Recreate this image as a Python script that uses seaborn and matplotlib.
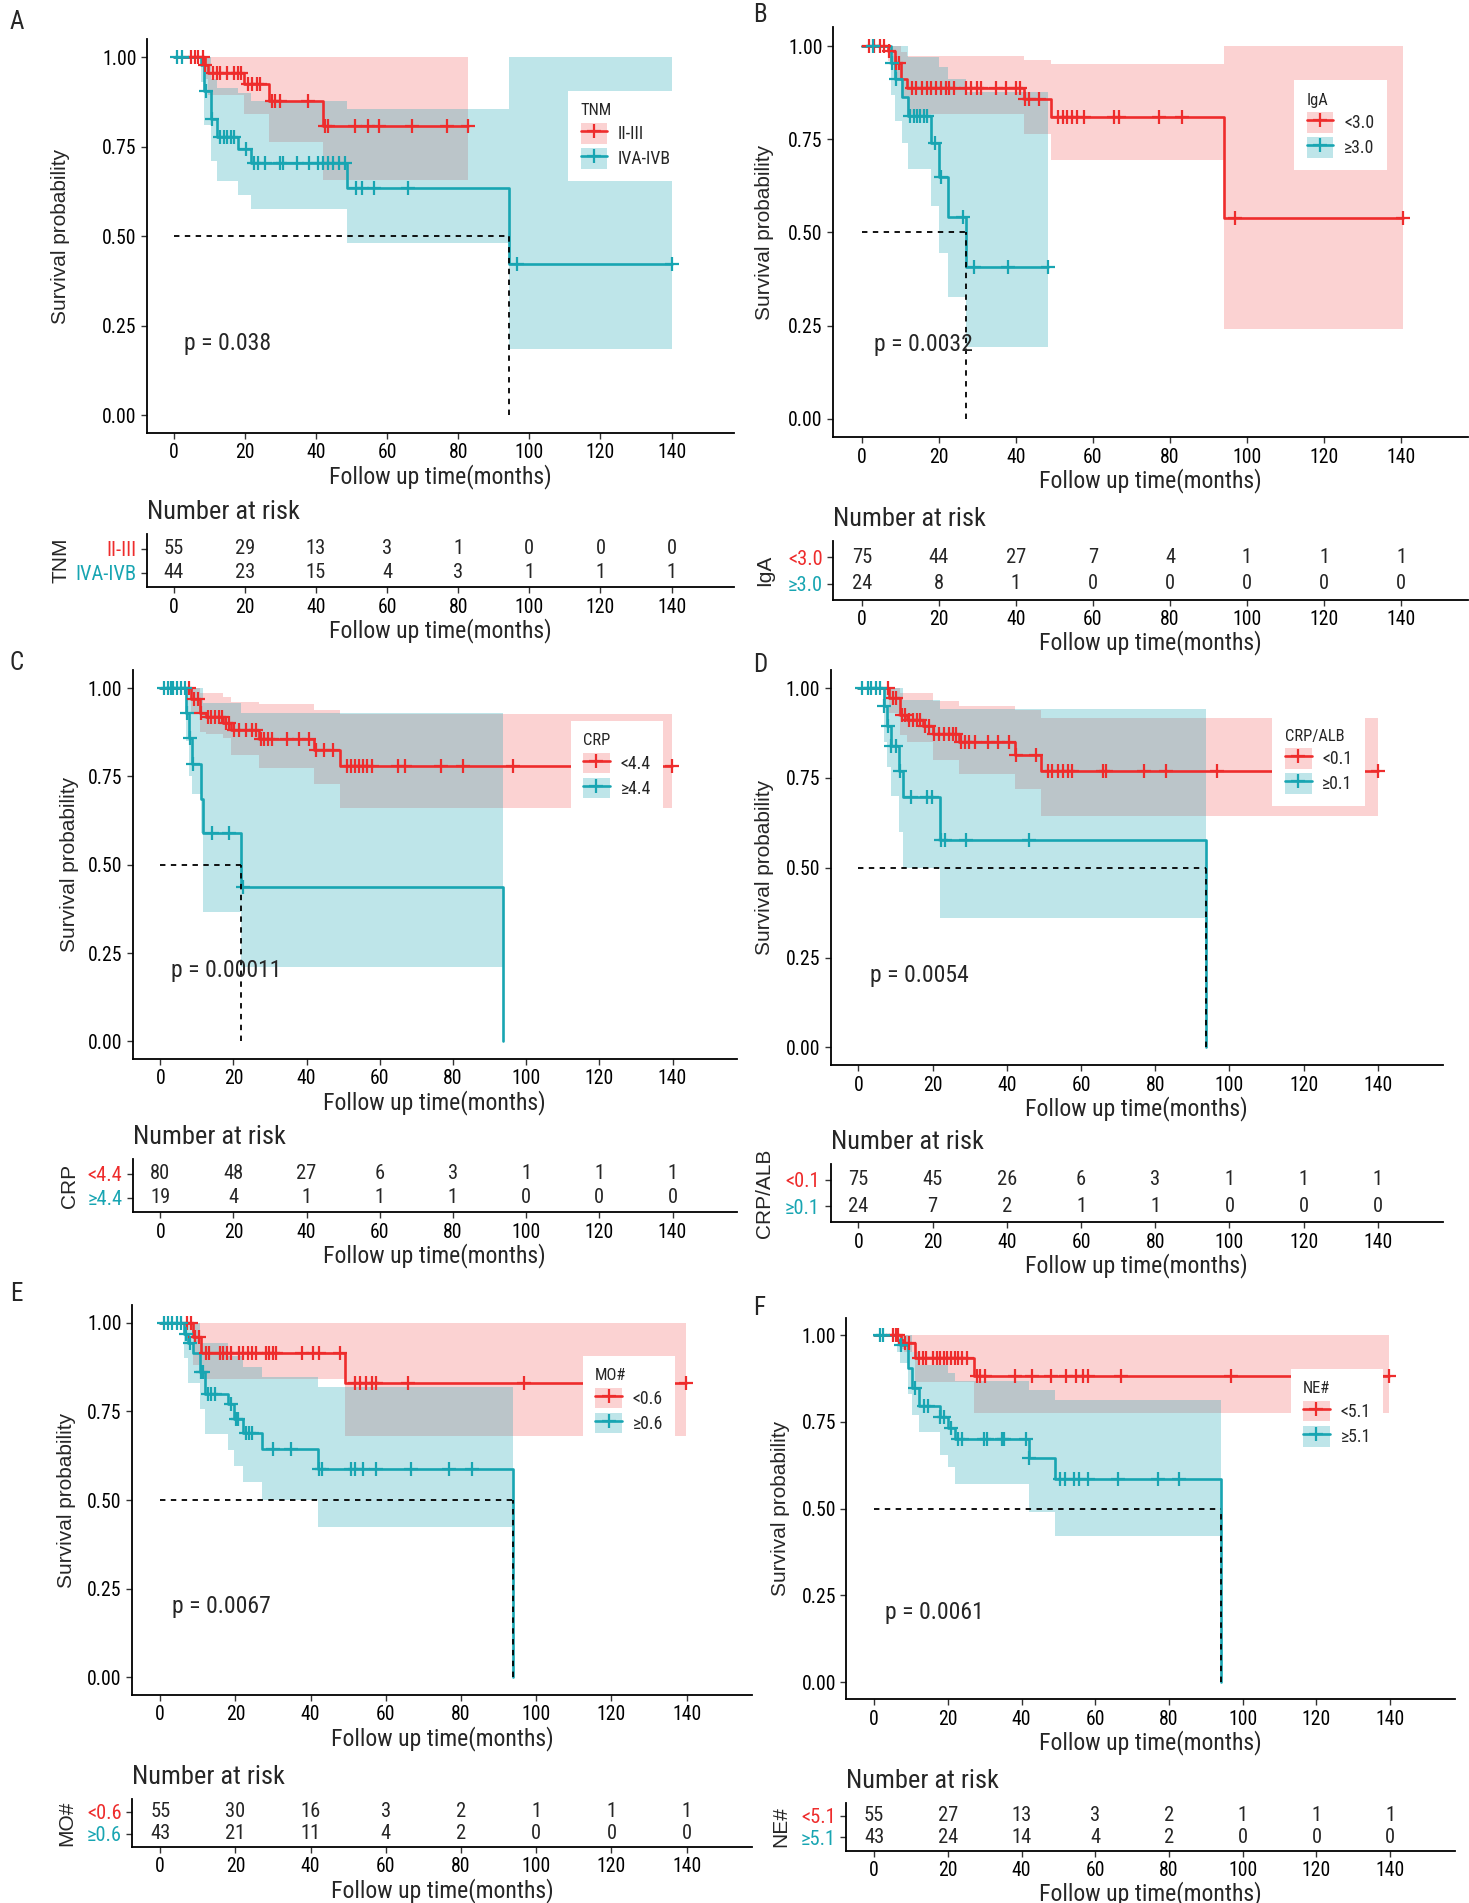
import numpy as np
import pandas as pd
import matplotlib
matplotlib.use("Agg")
import matplotlib.pyplot as plt
import seaborn as sns
from matplotlib import font_manager as fm
from matplotlib.patches import Patch
from matplotlib.lines import Line2D
from matplotlib.transforms import offset_copy

# ---------------------------------------------------------------- data
TICKS = [0, 20, 40, 60, 80, 100, 120, 140]

# Panel A : TNM
A_title = "TNM"
A_labels = ["II-III", "IVA-IVB"]
A_p = "p = 0.038"
A_g1_time = [0, 8.8, 9.8, 19.7, 26.9, 42.0]
A_g1_surv = [1.0, 0.977, 0.955, 0.926, 0.877, 0.807]
A_g1_low = [1.0, 0.94, 0.895, 0.842, 0.763, 0.656]
A_g1_up = [1.0, 1.0, 1.0, 1.0, 1.0, 1.0]
A_g1_end = 82.7
A_g1_cens = [5.0, 5.9, 7.0, 8.2, 8.8, 11.2, 12.1, 13.1, 15.1, 17.1, 18.1, 19.0, 21.0, 22.0,
             23.4, 24.3, 27.6, 28.6, 29.8, 37.7, 42.6, 43.3, 51.0, 54.7, 57.7, 67.0, 76.8, 82.7]
A_g2_time = [0, 7.6, 8.6, 10.5, 12.2, 18.1, 21.7, 48.8, 94.2]
A_g2_surv = [1.0, 0.977, 0.905, 0.828, 0.777, 0.744, 0.705, 0.635, 0.423]
A_g2_low = [1.0, 0.93, 0.81, 0.71, 0.655, 0.615, 0.575, 0.48, 0.184]
A_g2_up = [1.0, 1.0, 1.0, 0.94, 0.914, 0.90, 0.877, 0.855, 1.0]
A_g2_end = 140.0
A_g2_cens = [1.0, 2.4, 9.2, 10.9, 13.1, 14.2, 15.1, 16.0, 17.0, 20.3, 22.7, 23.6, 25.6, 29.9,
             30.8, 34.8, 38.0, 40.7, 42.0, 43.3, 44.9, 46.6, 48.3, 51.2, 53.1, 56.4, 65.9, 96.5, 140.0]
A_risk1 = [55, 29, 13, 3, 1, 0, 0, 0]
A_risk2 = [44, 23, 15, 4, 3, 1, 1, 1]

# Panel B : IgA
B_title = "IgA"
B_labels = ["<3.0", "\u22653.0"]
B_p = "p = 0.0032"
B_g1_time = [0, 6.8, 8.5, 10.2, 11.7, 42.1, 49.0, 94.1]
B_g1_surv = [1.0, 0.987, 0.955, 0.911, 0.888, 0.857, 0.81, 0.54]
B_g1_low = [1.0, 0.96, 0.91, 0.86, 0.817, 0.763, 0.694, 0.241]
B_g1_up = [1.0, 1.0, 1.0, 0.985, 0.973, 0.962, 0.953, 1.0]
B_g1_end = 140.4
B_g1_cens = [1.9, 3.2, 4.6, 5.6, 7.0, 8.9, 9.7, 13.1, 14.1, 15.6, 17.0, 18.0, 19.2, 20.5, 21.7,
             22.6, 23.9, 27.1, 28.4, 30.0, 30.8, 34.8, 37.5, 39.9, 41.1, 42.4, 43.3, 46.0, 50.9,
             52.1, 53.3, 54.5, 55.8, 57.6, 65.5, 66.8, 77.1, 83.2, 96.9, 140.4]
B_g2_time = [0, 7.5, 8.7, 10.5, 11.9, 18.0, 20.1, 22.3, 27.1]
B_g2_surv = [1.0, 0.955, 0.911, 0.864, 0.812, 0.741, 0.649, 0.542, 0.406]
B_g2_low = [1.0, 0.87, 0.80, 0.74, 0.67, 0.57, 0.446, 0.326, 0.192]
B_g2_up = [1.0, 1.0, 1.0, 1.0, 0.97, 0.97, 0.945, 0.911, 0.878]
B_g2_end = 48.2
B_g2_cens = [2.8, 7.7, 8.9, 12.5, 13.4, 14.4, 15.2, 16.2, 17.0, 18.9, 20.5, 26.3, 29.2, 37.9, 48.2]
B_risk1 = [75, 44, 27, 7, 4, 1, 1, 1]
B_risk2 = [24, 8, 1, 0, 0, 0, 0, 0]

# Panel C : CRP
C_title = "CRP"
C_labels = ["<4.4", "\u22654.4"]
C_p = "p = 0.00011"
C_g1_time = [0, 8.3, 10.8, 12.4, 17.2, 19.2, 26.9, 42.1, 49.1]
C_g1_surv = [1.0, 0.97, 0.929, 0.917, 0.901, 0.882, 0.857, 0.824, 0.779]
C_g1_low = [1.0, 0.93, 0.875, 0.87, 0.859, 0.81, 0.774, 0.729, 0.661]
C_g1_up = [1.0, 1.0, 0.986, 0.986, 0.976, 0.962, 0.955, 0.937, 0.927]
C_g1_end = 139.8
C_g1_cens = [7.9, 9.2, 10.2, 11.1, 13.1, 13.9, 15.0, 16.0, 16.9, 17.9, 18.8, 20.1, 21.6, 23.3,
             25.2, 26.2, 27.5, 28.4, 29.4, 30.6, 34.6, 37.8, 40.6, 42.5, 44.7, 47.2, 51.1, 52.1,
             53.1, 54.3, 55.3, 56.6, 57.8, 65.1, 66.8, 76.8, 82.8, 96.5, 139.8]
C_g2_time = [0, 6.9, 7.8, 8.6, 11.1, 11.6, 22.0, 93.7]
C_g2_surv = [1.0, 0.929, 0.859, 0.784, 0.685, 0.59, 0.438, 0.0]
C_g2_low = [1.0, 0.85, 0.75, 0.70, 0.59, 0.365, 0.21, 0.0]
C_g2_up = [1.0, 1.0, 1.0, 1.0, 1.0, 0.958, 0.931, 0.0]
C_g2_end = 93.7
C_g2_cens = [0.9, 2.2, 2.8, 3.5, 4.7, 5.8, 6.7, 7.2, 8.1, 8.9, 14.1, 18.8, 22.7]
C_risk1 = [80, 48, 27, 6, 3, 1, 1, 1]
C_risk2 = [19, 4, 1, 1, 1, 0, 0, 0]

# Panel D : CRP/ALB
D_title = "CRP/ALB"
D_labels = ["<0.1", "\u22650.1"]
D_p = "p = 0.0054"
D_g1_time = [0, 8.3, 11.1, 13.0, 17.4, 20.1, 27.2, 42.3, 49.1]
D_g1_surv = [1.0, 0.972, 0.926, 0.912, 0.895, 0.872, 0.851, 0.814, 0.77]
D_g1_low = [1.0, 0.93, 0.87, 0.85, 0.85, 0.80, 0.76, 0.72, 0.645]
D_g1_up = [1.0, 1.0, 0.986, 0.986, 0.986, 0.963, 0.951, 0.939, 0.918]
D_g1_end = 140.0
D_g1_cens = [7.9, 9.2, 10.2, 11.7, 12.6, 13.6, 14.6, 15.7, 16.7, 18.0, 18.9, 20.5, 21.8, 23.0,
             24.3, 25.5, 26.4, 27.7, 28.7, 29.9, 31.4, 35.0, 37.5, 40.6, 42.5, 47.8, 51.1, 52.3,
             53.8, 55.1, 56.4, 57.6, 65.8, 66.8, 76.9, 83.0, 96.6, 140.0]
D_g2_time = [0, 6.8, 7.7, 8.7, 11.0, 12.0, 22.0, 93.8]
D_g2_surv = [1.0, 0.949, 0.895, 0.839, 0.77, 0.696, 0.577, 0.0]
D_g2_low = [1.0, 0.85, 0.78, 0.70, 0.60, 0.50, 0.36, 0.0]
D_g2_up = [1.0, 1.0, 1.0, 1.0, 1.0, 0.967, 0.942, 0.0]
D_g2_end = 93.8
D_g2_cens = [1.0, 2.5, 3.5, 4.8, 5.8, 7.0, 7.9, 8.9, 10.1, 11.1, 14.2, 18.6, 19.9, 22.4, 23.4, 29.1, 46.0]
D_risk1 = [75, 45, 26, 6, 3, 1, 1, 1]
D_risk2 = [24, 7, 2, 1, 1, 0, 0, 0]

# Panel E : MO#
E_title = "MO#"
E_labels = ["<0.6", "\u22650.6"]
E_p = "p = 0.0067"
E_g1_time = [0, 8.6, 10.8, 49.1]
E_g1_surv = [1.0, 0.959, 0.915, 0.83]
E_g1_low = [1.0, 0.88, 0.843, 0.681]
E_g1_up = [1.0, 1.0, 1.0, 1.0]
E_g1_end = 139.7
E_g1_cens = [7.1, 8.1, 9.3, 10.2, 12.1, 13.1, 15.8, 16.8, 17.7, 18.9, 21.0, 22.0, 23.3, 24.3,
             25.5, 28.0, 28.9, 29.9, 30.8, 37.6, 40.5, 42.3, 47.8, 51.9, 53.2, 54.7, 56.3, 57.5,
             65.9, 96.8, 139.7]
E_g2_time = [0, 6.3, 7.5, 8.6, 10.7, 11.8, 17.9, 19.6, 22.0, 27.0, 42.0, 93.9]
E_g2_surv = [1.0, 0.97, 0.944, 0.915, 0.86, 0.80, 0.77, 0.73, 0.69, 0.645, 0.588, 0.0]
E_g2_low = [1.0, 0.9, 0.83, 0.83, 0.758, 0.686, 0.64, 0.597, 0.552, 0.50, 0.425, 0.0]
E_g2_up = [1.0, 1.0, 1.0, 1.0, 0.944, 0.944, 0.906, 0.906, 0.876, 0.847, 0.819, 0.0]
E_g2_end = 93.9
E_g2_cens = [0.9, 2.1, 3.1, 4.4, 5.6, 6.8, 7.9, 10.9, 11.4, 12.7, 13.6, 14.6, 18.9, 20.2, 20.8,
             22.7, 23.7, 24.5, 29.9, 34.9, 42.3, 43.0, 50.7, 51.9, 53.8, 57.5, 66.6, 76.8, 82.8]
E_risk1 = [55, 30, 16, 3, 2, 1, 1, 1]
E_risk2 = [43, 21, 11, 4, 2, 0, 0, 0]

# Panel F : NE#
F_title = "NE#"
F_labels = ["<5.1", "\u22655.1"]
F_p = "p = 0.0061"
F_g1_time = [0, 7.2, 8.0, 11.0, 27.2]
F_g1_surv = [1.0, 0.986, 0.978, 0.933, 0.883]
F_g1_low = [1.0, 0.96, 0.95, 0.865, 0.776]
F_g1_up = [1.0, 1.0, 1.0, 1.0, 1.0]
F_g1_end = 139.7
F_g1_cens = [5.1, 6.0, 6.6, 8.5, 9.4, 12.3, 13.2, 14.2, 16.1, 17.0, 18.0, 18.9, 19.9, 20.8, 21.9,
             22.9, 23.8, 25.3, 27.8, 28.8, 30.1, 38.1, 42.8, 47.9, 52.1, 54.9, 56.8, 58.1, 67.0,
             96.8, 139.7]
F_g2_time = [0, 6.3, 7.0, 9.2, 10.2, 12.3, 17.8, 20.0, 21.9, 41.9, 49.2, 94.0]
F_g2_surv = [1.0, 0.986, 0.971, 0.904, 0.846, 0.795, 0.765, 0.731, 0.699, 0.647, 0.585, 0.0]
F_g2_low = [1.0, 0.95, 0.92, 0.83, 0.77, 0.72, 0.655, 0.62, 0.57, 0.49, 0.42, 0.0]
F_g2_up = [1.0, 1.0, 1.0, 1.0, 0.95, 0.913, 0.913, 0.89, 0.868, 0.841, 0.813, 0.0]
F_g2_end = 94.0
F_g2_cens = [1.5, 2.5, 7.2, 11.1, 13.6, 14.5, 18.0, 19.1, 21.0, 22.9, 23.8, 29.7, 30.7, 34.6,
             35.2, 41.2, 42.1, 50.4, 51.7, 54.3, 55.5, 58.1, 66.1, 77.1, 82.8]
F_risk1 = [55, 27, 13, 3, 2, 1, 1, 1]
F_risk2 = [43, 24, 14, 4, 2, 0, 0, 0]

# ---------------------------------------------------------------- style
sns.set_style("ticks")


def has_font(name):
    try:
        fm.findfont(fm.FontProperties(family=name), fallback_to_default=False)
        return True
    except Exception:
        return False


if has_font("Liberation Sans Narrow"):
    NARROW, NS = "Liberation Sans Narrow", 1.0
elif has_font("Roboto Condensed"):
    NARROW, NS = "Roboto Condensed", 0.95
else:
    NARROW, NS = "Liberation Sans", 0.84
REG = "Liberation Sans" if has_font("Liberation Sans") else "DejaVu Sans"
NFAM = [NARROW, "DejaVu Sans"]
RFAM = [REG, "DejaVu Sans"]
plt.rcParams["font.family"] = NFAM

RED = "#EE2C2C"
TEAL = "#18A5B2"
ALPHAS = {RED: 0.21, TEAL: 0.28}
LW = 1.9

W, H = 1210.0, 1568.0
fig = plt.figure(figsize=(14.69, 19.03), dpi=100)


def rect(l, t, r, b):
    return [l / W, 1 - b / H, (r - l) / W, (b - t) / H]


# layout (reference pixel grid scaled to 1210 x 1568)
LAYOUT = {
    "A": dict(main=(121, 32.25, 604.5, 356.75), tab=(440, 484), ylx=50, letter=(8, 18), leg=(468, 75)),
    "B": dict(main=(686.2, 22.65, 1209.5, 360.35), tab=(446, 494), ylx=630, letter=(620, 12), leg=(1066, 66)),
    "C": dict(main=(109.4, 552.45, 606.7, 872.55), tab=(955, 999), ylx=57, letter=(8, 546), leg=(470, 594)),
    "D": dict(main=(684.1, 552.2, 1188.5, 877.8), tab=(959, 1007), ylx=630, letter=(620, 548), leg=(1048, 590)),
    "E": dict(main=(108.75, 1075.4, 619.8, 1396.6), tab=(1482.2, 1521.8), ylx=55, letter=(8, 1066), leg=(480, 1117)),
    "F": dict(main=(697.2, 1085.7, 1198.2, 1400.3), tab=(1485.2, 1524.8), ylx=643, letter=(620, 1078), leg=(1063, 1128)),
}

PANELS = {
    "A": (A_title, A_labels, A_p,
          (A_g1_time, A_g1_surv, A_g1_low, A_g1_up, A_g1_end, A_g1_cens),
          (A_g2_time, A_g2_surv, A_g2_low, A_g2_up, A_g2_end, A_g2_cens), A_risk1, A_risk2),
    "B": (B_title, B_labels, B_p,
          (B_g1_time, B_g1_surv, B_g1_low, B_g1_up, B_g1_end, B_g1_cens),
          (B_g2_time, B_g2_surv, B_g2_low, B_g2_up, B_g2_end, B_g2_cens), B_risk1, B_risk2),
    "C": (C_title, C_labels, C_p,
          (C_g1_time, C_g1_surv, C_g1_low, C_g1_up, C_g1_end, C_g1_cens),
          (C_g2_time, C_g2_surv, C_g2_low, C_g2_up, C_g2_end, C_g2_cens), C_risk1, C_risk2),
    "D": (D_title, D_labels, D_p,
          (D_g1_time, D_g1_surv, D_g1_low, D_g1_up, D_g1_end, D_g1_cens),
          (D_g2_time, D_g2_surv, D_g2_low, D_g2_up, D_g2_end, D_g2_cens), D_risk1, D_risk2),
    "E": (E_title, E_labels, E_p,
          (E_g1_time, E_g1_surv, E_g1_low, E_g1_up, E_g1_end, E_g1_cens),
          (E_g2_time, E_g2_surv, E_g2_low, E_g2_up, E_g2_end, E_g2_cens), E_risk1, E_risk2),
    "F": (F_title, F_labels, F_p,
          (F_g1_time, F_g1_surv, F_g1_low, F_g1_up, F_g1_end, F_g1_cens),
          (F_g2_time, F_g2_surv, F_g2_low, F_g2_up, F_g2_end, F_g2_cens), F_risk1, F_risk2),
}

XLIM = (-7.5, 157.5)
LW_AX = 1.3


def style_axes(ax):
    sns.despine(ax=ax)
    for sp in ("left", "bottom"):
        ax.spines[sp].set_linewidth(LW_AX)
        ax.spines[sp].set_color("black")
    ax.tick_params(axis="both", direction="out", length=4.5, width=1.0, color="#333333",
                   labelsize=15 * NS, pad=3, labelcolor="black")
    for lab in ax.get_xticklabels() + ax.get_yticklabels():
        lab.set_family(NFAM)


def draw_curve(ax, grp, color):
    t, s, lo, up, end, cens = [np.asarray(v, float) if not np.isscalar(v) else v for v in grp]
    tt = np.append(t, end)
    ss = np.append(s, s[-1])
    ll = np.append(lo, lo[-1])
    uu = np.append(up, up[-1])
    ax.fill_between(tt, ll, uu, step="post", color=color, alpha=ALPHAS[color], lw=0, zorder=1)
    df = pd.DataFrame({"time": tt, "surv": ss})
    sns.lineplot(data=df, x="time", y="surv", drawstyle="steps-post", estimator=None,
                 sort=False, color=color, lw=LW, ax=ax, zorder=3)
    idx = np.searchsorted(t, cens, side="right") - 1
    ax.plot(cens, s[idx], ls="none", marker="+", ms=10, mew=1.6, color=color, zorder=4)


for key in "ABCDEF":
    title, labels, ptxt, g1, g2, r1, r2 = PANELS[key]
    L = LAYOUT[key]
    l, t, r, b = L["main"]
    ax = fig.add_axes(rect(l, t, r, b))
    draw_curve(ax, g1, RED)
    draw_curve(ax, g2, TEAL)

    # median survival line from the group reaching 0.5
    t2 = np.asarray(g2[0], float)
    s2 = np.asarray(g2[1], float)
    med = t2[np.argmax(s2 <= 0.5)]
    ax.plot([0, med], [0.5, 0.5], ls=(0, (3, 3)), color="black", lw=1.3, zorder=5)
    ax.plot([med, med], [0, 0.5], ls=(0, (3, 3)), color="black", lw=1.3, zorder=5)

    ax.text(3, 0.2, ptxt, ha="left", va="center", fontsize=18 * NS, family=NFAM, zorder=6)

    ax.set_xlim(*XLIM)
    ax.set_ylim(-0.05, 1.05)
    ax.set_xticks(TICKS)
    ax.set_yticks([0, 0.25, 0.5, 0.75, 1.0])
    ax.set_yticklabels(["0.00", "0.25", "0.50", "0.75", "1.00"])
    ax.set_xlabel("Follow up time(months)", fontsize=18 * NS, family=NFAM, labelpad=1)
    ax.set_ylabel("Survival probability", fontsize=15, family=RFAM, va="center")
    ax.yaxis.set_label_coords((L["ylx"] - l) / (r - l), 0.5)
    style_axes(ax)

    # legend
    handles = [(Patch(facecolor=c, alpha=ALPHAS[c], lw=0),
                Line2D([], [], color=c, lw=LW, marker="+", ms=10, mew=1.6)) for c in (RED, TEAL)]
    lx, ly = L["leg"]
    leg = ax.legend(handles, labels, title=title, loc="upper left",
                    bbox_to_anchor=((lx - l) / (r - l), 1 - (ly - t) / (b - t)),
                    frameon=True, fancybox=False, edgecolor="none", facecolor="white",
                    framealpha=1, prop={"family": NFAM, "size": 13.5 * NS},
                    title_fontproperties={"family": NFAM, "size": 12.5 * NS},
                    handlelength=1.5, handleheight=1.4, handletextpad=0.6,
                    borderaxespad=0, borderpad=0.7, labelspacing=0.25, alignment="left")
    leg.set_zorder(10)

    # panel letter
    fig.text(L["letter"][0] / W, 1 - L["letter"][1] / H, key, ha="left", va="center",
             fontsize=19 * NS, family=NFAM)

    # number-at-risk table
    tt_, tb_ = L["tab"]
    axr = fig.add_axes(rect(l, tt_, r, tb_))
    axr.set_xlim(*XLIM)
    axr.set_ylim(0.4, 2.6)
    for x, n1, n2 in zip(TICKS, r1, r2):
        axr.text(x, 2, str(n1), ha="center", va="center", fontsize=15.5 * NS, family=NFAM)
        axr.text(x, 1, str(n2), ha="center", va="center", fontsize=15.5 * NS, family=NFAM)
    axr.set_xticks(TICKS)
    axr.set_yticks([2, 1])
    axr.set_yticklabels(labels)
    axr.set_xlabel("Follow up time(months)", fontsize=18 * NS, family=NFAM, labelpad=1)
    axr.set_ylabel(title, fontsize=15, family=RFAM, va="center")
    axr.yaxis.set_label_coords((L["ylx"] - l) / (r - l), 0.5)
    style_axes(axr)
    for lab, c in zip(axr.get_yticklabels(), (RED, TEAL)):
        lab.set_color(c)
        lab.set_fontsize(15.5 * NS)
    axr.text(0, 1, "Number at risk", ha="left", va="center", fontsize=20 * NS, family=NFAM,
             transform=offset_copy(axr.transAxes, fig=fig, x=0, y=22, units="dots"))

fig.savefig("out.png", dpi=100, facecolor="white")
